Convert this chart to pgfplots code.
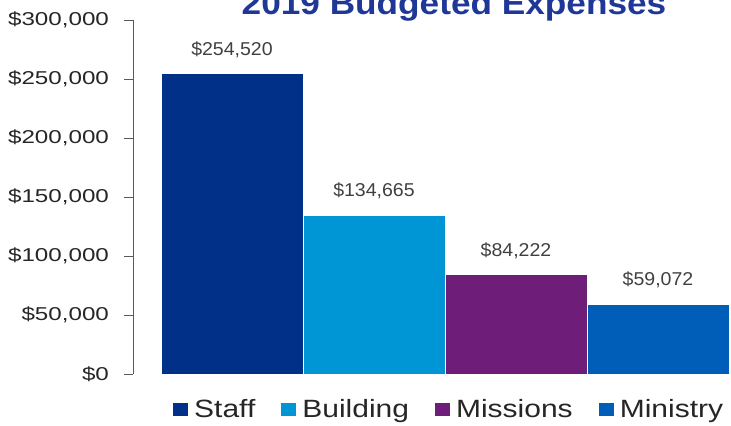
\documentclass[border=0pt]{standalone}
\usepackage{pgfplots}
\pgfplotsset{compat=1.18}
\usepackage{fontspec}
\setmainfont{Liberation Sans}
\newfontfamily\tickfont{Liberation Sans}[FakeStretch=1.3]
\newfontfamily\legfont{Liberation Sans}[FakeStretch=1.2]
\newfontfamily\datafont{Liberation Sans}[FakeStretch=1.05]
\newfontfamily\titlefont{Liberation Sans}[FakeStretch=1.1]
\definecolor{cStaff}{RGB}{0,48,135}
\definecolor{cBuilding}{RGB}{0,150,214}
\definecolor{cMissions}{RGB}{110,30,120}
\definecolor{cMinistry}{RGB}{0,94,184}
\definecolor{cTitle}{RGB}{31,55,150}
\definecolor{cText}{RGB}{64,64,64}
\begin{document}
\begin{tikzpicture}
\begin{axis}[
  at={(66.5pt,25.5pt)}, anchor=south west,
  scale only axis, width=299pt, height=177pt,
  every non boxed y axis/.append style={ytick align=outside, y axis line style={-}},
  axis y line*=left,
  hide x axis,
  xmin=-0.697, xmax=3.514,
  ymin=0, ymax=300000,
  ybar, bar width=1, bar shift=0pt,
  ytick={0,50000,100000,150000,200000,250000,300000},
  yticklabels={{\$0},{\$50,000},{\$100,000},{\$150,000},{\$200,000},{\$250,000},{\$300,000}},
  scaled y ticks=false,
  major tick length=4.5pt,
  tick align=outside,
  y axis line style={draw=gray!70!black, line width=0.5pt},
  ytick style={draw=gray!70!black, line width=0.5pt},
  yticklabel style={font=\tickfont\fontsize{9.3}{11}\selectfont, text=black!85, xshift=-4pt},
  nodes near coords={\$\pgfmathprintnumber[fixed, precision=0, 1000 sep={,}, assume math mode=true]{\pgfplotspointmeta}},
  every node near coord/.append style={font=\datafont\fontsize{9.3}{11}\selectfont, text=cText, yshift=4.5pt},
  legend columns=4,
  legend style={at={(rel axis cs:0.532,-0.1003)}, anchor=center, draw=none, fill=none,
    font=\legfont\fontsize{12.5}{14}\selectfont, text=black!85,
    nodes={inner sep=3pt},
    /tikz/every even column/.append style={column sep=10pt}},
  legend image code/.code={\fill[#1, draw=none] (0pt,-3.25pt) rectangle (7.5pt,3.25pt);},
]
\addplot[fill=cStaff, draw=white, line width=0.4pt] coordinates {(0,254520)};
\addplot[fill=cBuilding, draw=white, line width=0.4pt] coordinates {(1,134665)};
\addplot[fill=cMissions, draw=white, line width=0.4pt] coordinates {(2,84222)};
\addplot[fill=cMinistry, draw=white, line width=0.4pt] coordinates {(3,59072)};
\legend{Staff,Building,Missions,Ministry}
\end{axis}
\node[anchor=base, font=\titlefont\bfseries\fontsize{16}{19}\selectfont, text=cTitle] at (227pt,205.5pt) {2019 Budgeted Expenses};
\pgfresetboundingbox
\useasboundingbox (0,0) rectangle (365.5pt,212.5pt);
\end{tikzpicture}
\end{document}
